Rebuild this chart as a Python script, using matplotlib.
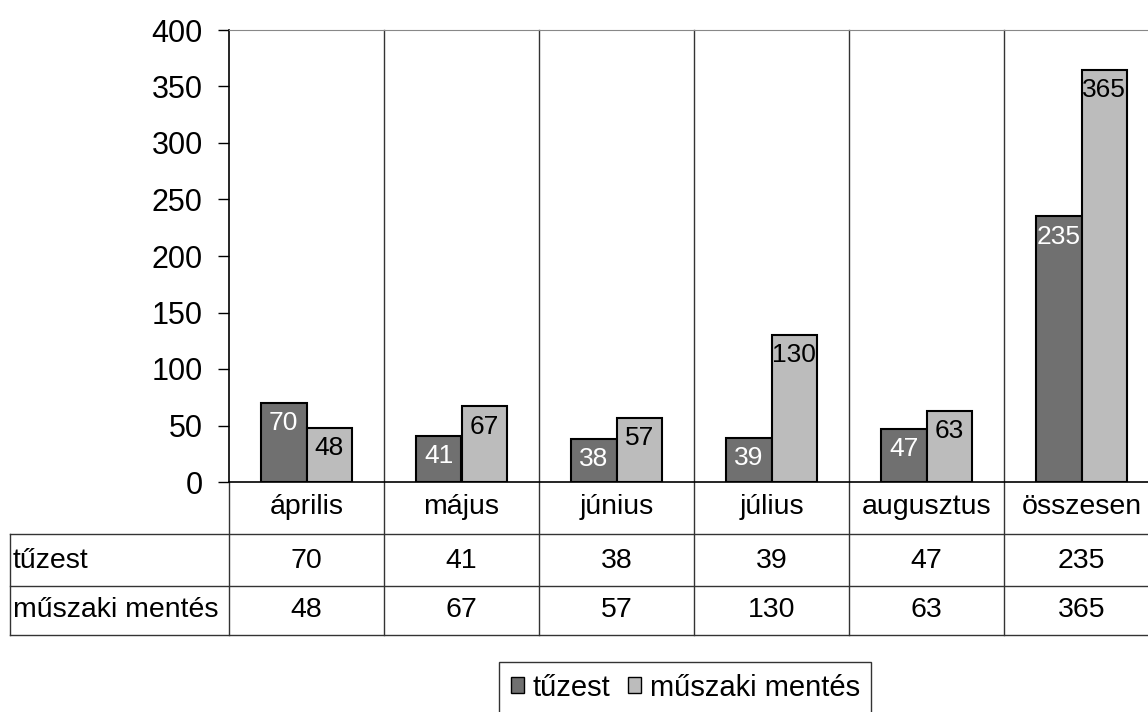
import matplotlib.pyplot as plt
from matplotlib import font_manager
from matplotlib.patches import Patch

plt.rcParams['font.family'] = ['Liberation Sans', 'DejaVu Sans']

honapok = ["április", "május", "június", "július", "augusztus", "összesen"]
tuzest = [70, 41, 38, 39, 47, 235]
muszaki = [48, 67, 57, 130, 63, 365]
sorok = ["tűzest", "műszaki mentés"]
yticks = list(range(0, 401, 50))

sotet = "#707070"
vilagos = "#bcbcbc"

# narrow face for the bar labels, if available
nevek = {f.name for f in font_manager.fontManager.ttflist}
keskeny = ["Liberation Sans Narrow"] if "Liberation Sans Narrow" in nevek else ["Liberation Sans"]

W, H = 1148, 712
fig = plt.figure(figsize=(W / 100, H / 100), dpi=100)

# plot area in pixels
x0, x1 = 229, 229 + 6 * 155
y0, y1 = 30, 482
ax = fig.add_axes([x0 / W, 1 - y1 / H, (x1 - x0) / W, (y1 - y0) / H])

n = len(honapok)
xs = list(range(n))
bw = 0.295
b1 = ax.bar([x - bw / 2 for x in xs], tuzest, bw, color=sotet, edgecolor="black", linewidth=1.5)
b2 = ax.bar([x + bw / 2 for x in xs], muszaki, bw, color=vilagos, edgecolor="black", linewidth=1.5)

cimke = 21 if keskeny[0].endswith("Narrow") else 19
for r, v in zip(b1, tuzest):
    ax.annotate(str(v), (r.get_x() + r.get_width() / 2, v), xytext=(0, -6),
                textcoords="offset points", ha="center", va="top", fontsize=cimke,
                color="white", family=keskeny)
for r, v in zip(b2, muszaki):
    ax.annotate(str(v), (r.get_x() + r.get_width() / 2, v), xytext=(0, -6),
                textcoords="offset points", ha="center", va="top", fontsize=cimke,
                color="black", family=keskeny)

ax.set_xlim(-0.5, n - 0.5)
ax.set_ylim(0, 400)
ax.set_yticks(yticks)
ax.tick_params(axis="y", direction="out", length=8, width=1, labelsize=22, pad=11)
ax.set_xticks([])
ax.spines["right"].set_visible(False)
ax.spines["top"].set_color("#888888")
ax.spines["left"].set_linewidth(1.2)
ax.spines["bottom"].set_linewidth(1.2)

# data table below the chart (x in data units, y in axes units)
tr = ax.get_xaxis_transform()
ppx = 155.0
ppy = float(y1 - y0)
xl = -0.5 - (x0 - 10) / ppx
xr = n - 0.5 + 0.5
r1 = -(534 - y1) / ppy
r2 = -(586 - y1) / ppy
r3 = -(635 - y1) / ppy
lc = "#333333"
for yy in [r1, r2, r3]:
    ax.plot([xl, xr], [yy, yy], color=lc, lw=1, transform=tr, clip_on=False)
ax.plot([xl, xl], [r1, r3], color=lc, lw=1, transform=tr, clip_on=False)
ax.plot([-0.5, -0.5], [0, r3], color=lc, lw=1, transform=tr, clip_on=False)
for k in range(1, n + 1):
    ax.plot([k - 0.5, k - 0.5], [1, r3], color=lc, lw=1, transform=tr, clip_on=False)

yh = -(507 - y1) / ppy
ys1 = -(561 - y1) / ppy
ys2 = -(610 - y1) / ppy
for x, h, a, b in zip(xs, honapok, tuzest, muszaki):
    ax.text(x, yh, h, transform=tr, ha="center", va="center", fontsize=20.5)
    ax.text(x, ys1, str(a), transform=tr, ha="center", va="center", fontsize=20.5)
    ax.text(x, ys2, str(b), transform=tr, ha="center", va="center", fontsize=20.5)
xt = xl + 3 / ppx
ax.text(xt, ys1, sorok[0], transform=tr, ha="left", va="center", fontsize=20.5)
ax.text(xt, ys2, sorok[1], transform=tr, ha="left", va="center", fontsize=20.5)

kezek = [Patch(facecolor=sotet, edgecolor="black", label=sorok[0]),
         Patch(facecolor=vilagos, edgecolor="black", label=sorok[1])]
leg = fig.legend(handles=kezek, loc="upper left", bbox_to_anchor=(499 / W, 1 - 662 / H),
                 ncol=2, fontsize=21, frameon=True, fancybox=False, borderaxespad=0,
                 handlelength=0.45, handleheight=0.45, handletextpad=0.3, columnspacing=0.6,
                 borderpad=0.4)
leg.get_frame().set_edgecolor("black")
leg.get_frame().set_linewidth(1)

fig.savefig("out.png", dpi=100)
